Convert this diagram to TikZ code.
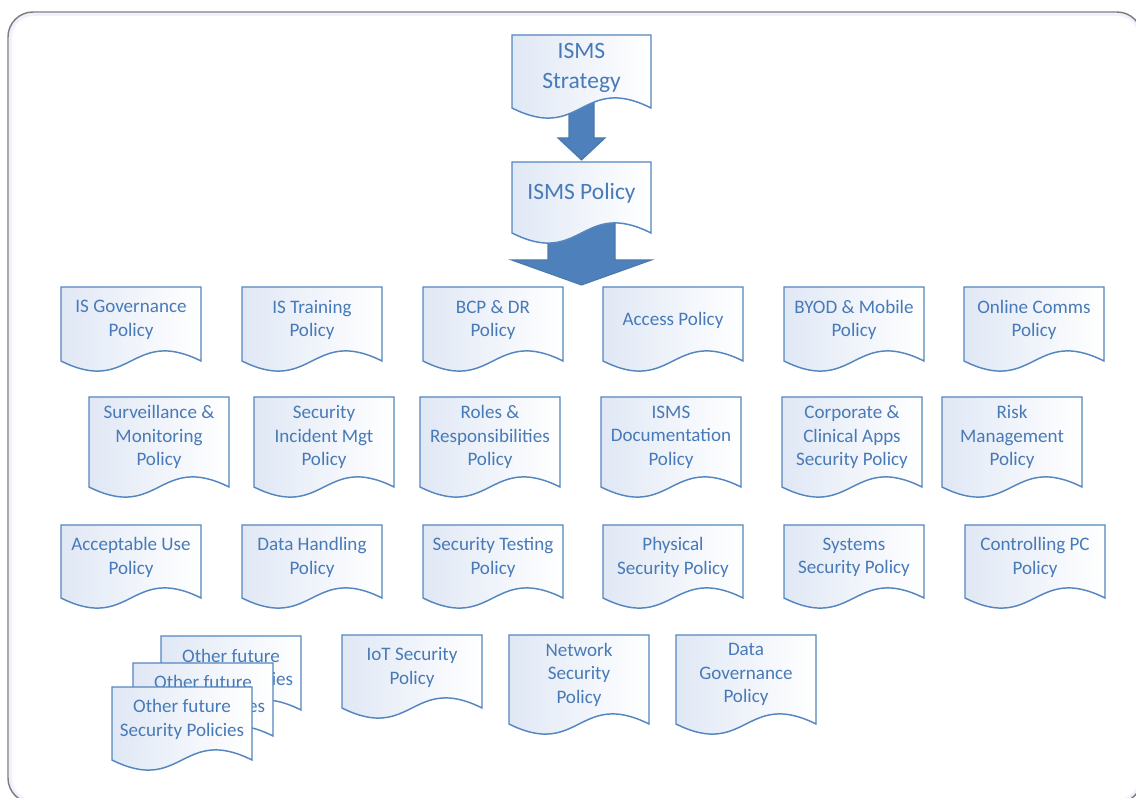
\documentclass[tikz,border=0pt]{standalone}
\usepackage{fontspec}
\setmainfont{Carlito}
\definecolor{docblue}{RGB}{84,134,192}
\definecolor{doctextblue}{RGB}{72,122,184}
\definecolor{docfill}{RGB}{224,232,245}
\definecolor{arrowblue}{RGB}{78,129,188}
\definecolor{framegray}{RGB}{125,125,125}
\tikzstyle{docshape}=[
        draw=docblue,
        line width=1.1pt,
        left color=docfill,
        right color=white
]
\tikzstyle{doctext}=[
        text=doctextblue,
        align=center,
        font=\fontsize{14.3}{17.6}\selectfont
]
\tikzstyle{doctextbig}=[
        text=doctextblue,
        align=center,
        font=\fontsize{17.6}{22.5}\selectfont
]
\tikzstyle{blockarrow}=[
        fill=arrowblue,
        draw=docblue!90!black,
        line width=0.8pt,
        line join=miter
]
% document shape with wavy bottom, text node named #2
\newcommand{\policydoc}[7][doctext]{%
  \draw[docshape] (#3,#4) -- ++(#5,0) -- ++(0,#6)
    .. controls +(-0.5*#5,-35) and +(0.5*#5,35) .. ++(-#5,0) -- cycle;
  \node[#1] (#2) at (#3+0.5*#5,#4+0.445*#6) {#7};
}

\begin{document}
\begin{tikzpicture}[x=0.75pt,y=-0.75pt]
    \useasboundingbox (0,0) rectangle (1136,798);
    \clip (0,0) rectangle (1136,798);

    % frame
    \draw[blue!6, line width=2.5pt, rounded corners=17pt] (10.5,14.5) rectangle (1140,801);
    \draw[framegray, line width=1.1pt, rounded corners=18.75pt] (8,12) rectangle (1142,803);

    % block arrows (drawn first, the documents cover their tails)
    \coordinate (strattail) at (581.5,100);
    \coordinate (polhead) at (581.5,160);
    \coordinate (poltail) at (581.5,220);
    \coordinate (rowtip) at (581.5,285);
    \draw[blockarrow] (strattail) ++(-12.5,0) -- ++(25,0) -- ++(0,38) -- ++(11,0)
        -- (polhead) -- ++(-23.5,-22) -- ++(11,0) -- cycle;
    \draw[blockarrow] (poltail) ++(-33.5,0) -- ++(67,0) -- ++(0,40) -- ++(36.5,0)
        -- (rowtip) -- ++(-70,-25) -- ++(36.5,0) -- cycle;

    \policydoc[doctextbig]{strategy}{512}{35}{139}{73}{ISMS\\Strategy}
    \policydoc[doctextbig]{policy}{512}{162}{139}{71}{ISMS Policy}

    % row 1
    \foreach \px/\pname/\ptext in {61/isgov/{IS Governance\\Policy},
                                   242/istrain/{IS Training\\Policy},
                                   423/bcpdr/{BCP \& DR\\Policy},
                                   603/access/{Access Policy},
                                   784/byod/{BYOD \& Mobile\\Policy},
                                   964/comms/{Online Comms\\Policy}} {
        \policydoc{\pname}{\px}{287}{140}{74}{\ptext}
    }

    % row 2
    \foreach \px/\pname/\ptext in {89/surveil/{Surveillance \&\\Monitoring\\Policy},
                                   254/incident/{Security\\Incident Mgt\\Policy},
                                   420/roles/{Roles \&\\Responsibilities\\Policy},
                                   601/ismsdoc/{ISMS\\Documentation\\Policy},
                                   782/clinical/{Corporate \&\\Clinical Apps\\Security Policy},
                                   942/risk/{Risk\\Management\\Policy}} {
        \policydoc{\pname}{\px}{397}{140}{90}{\ptext}
    }

    % row 3
    \foreach \px/\pname/\ptext in {61/acceptable/{Acceptable Use\\Policy},
                                   242/handling/{Data Handling\\Policy},
                                   423/testing/{Security Testing\\Policy},
                                   603/physical/{Physical\\Security Policy},
                                   784/systems/{Systems\\Security Policy},
                                   965/controlpc/{Controlling PC\\Policy}} {
        \policydoc{\pname}{\px}{525}{140}{73}{\ptext}
    }

    % row 4
    \policydoc{futurec}{161}{636}{140}{74}{Other future\\Security Policies}
    \policydoc{futureb}{133}{663}{140}{73}{Other future\\Security Policies}
    \policydoc{futurea}{112}{687}{140}{73}{Other future\\Security Policies}
    \policydoc{iot}{342}{635}{140}{73}{IoT Security\\Policy}
    \policydoc{network}{509}{635}{140}{89}{Network\\Security\\Policy}
    \policydoc{datagov}{676}{635}{140}{89}{Data\\Governance\\Policy}
\end{tikzpicture}
\end{document}
